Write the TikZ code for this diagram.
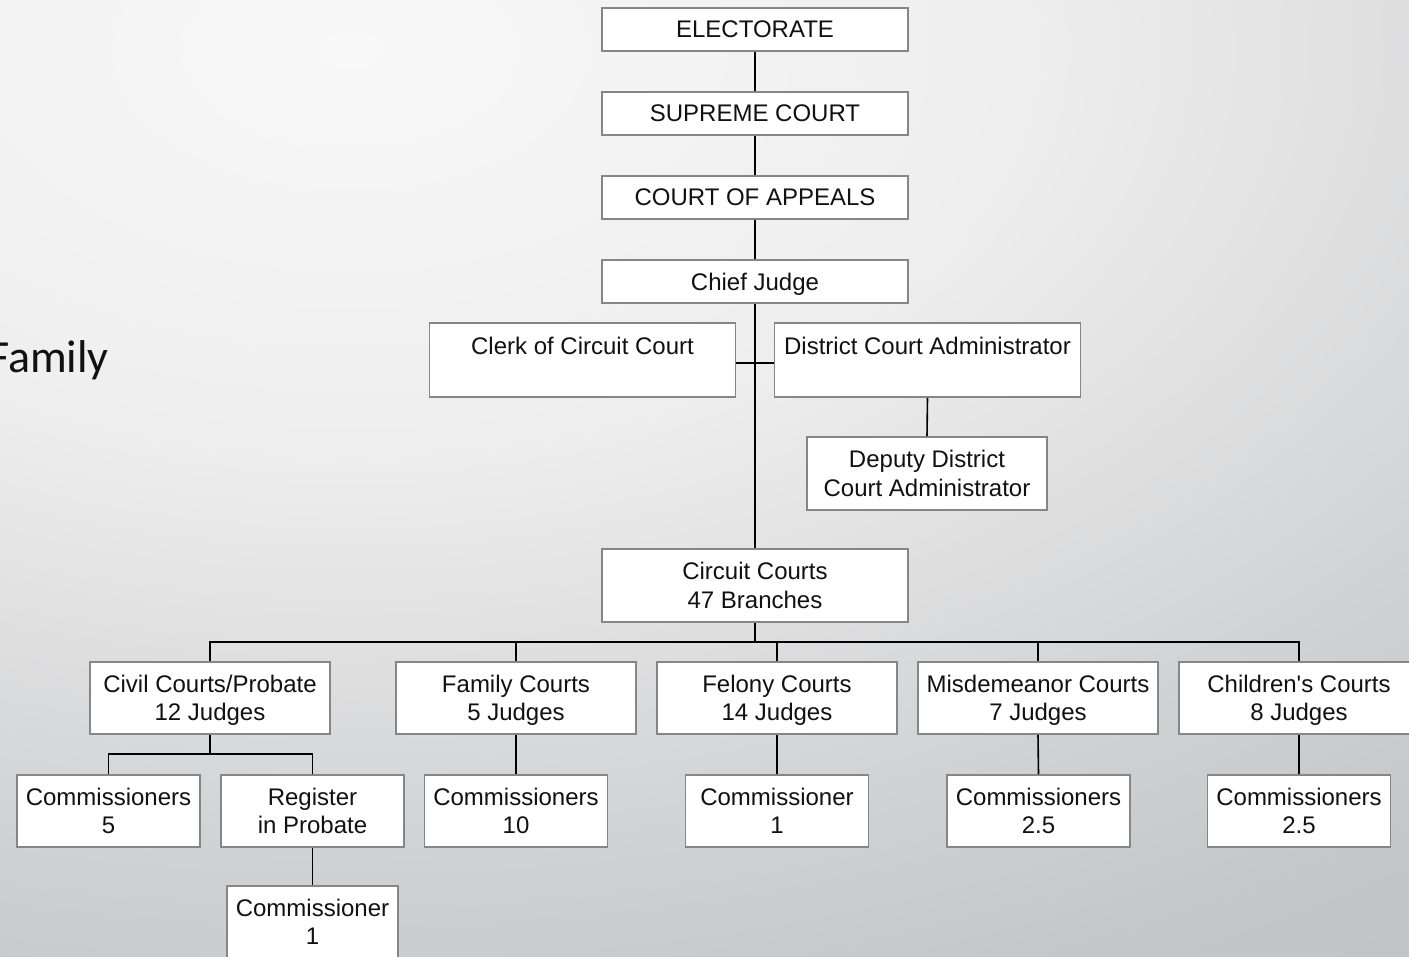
\documentclass[tikz,border=0pt]{standalone}
\usepackage{fontspec}
\setmainfont{Liberation Sans}[Ligatures=TeXOff]
\newfontfamily\calib{Carlito}
\definecolor{cA}{HTML}{F8F8F8}
\definecolor{cB}{HTML}{EEEEEE}
\definecolor{cC}{HTML}{E0E0E1}
\definecolor{cD}{HTML}{D0D2D3}
\definecolor{cE}{HTML}{C4C7C8}
\definecolor{cF}{HTML}{BFC2C3}
\definecolor{boxline}{HTML}{868686}
\definecolor{txt}{HTML}{111111}
\pgfdeclareradialshading{bgshade}{\pgfpoint{0bp}{0bp}}{color(0bp)=(cA); color(8bp)=(cB); color(12bp)=(cC); color(16bp)=(cD); color(20bp)=(cE); color(25bp)=(cF); color(50bp)=(cF)}
\begin{document}
\begin{tikzpicture}[x=1pt,y=-1pt,
  box/.style={draw=boxline,line width=1.6pt,fill=white,rectangle,inner sep=0pt,
    align=center,text=txt,text depth=0pt,font=\fontsize{24}{28.5}\selectfont},
  wide/.style={box,minimum width=306pt,minimum height=43pt},
  widetall/.style={box,minimum width=306pt,minimum height=74pt},
  mid/.style={box,minimum width=240pt,minimum height=72pt},
  small/.style={box,minimum width=183pt,minimum height=72pt},
  conn/.style={draw=black,line width=1.6pt}]
\useasboundingbox (0,0) rectangle (1409,957);
\fill[cE] (0,0) rectangle (1409,957);
\begin{scope}
\clip (0,0) rectangle (1409,957);
\shade[shading=bgshade] (350,50) ellipse (2125 and 1250);
\end{scope}
\node[anchor=base west,inner sep=0pt,font=\fontsize{46}{52}\selectfont\calib,text=txt] (fam) at (-12,373) {Family};

\node[wide] (elect) at (755,29.5) {ELECTORATE};
\node[wide] (supreme) at (755,113.5) {SUPREME COURT};
\node[wide] (appeals) at (755,197.5) {COURT OF APPEALS};
\node[wide] (chief) at (755,281.5) {Chief Judge};
\node[widetall] (clerk) at (582.5,360) {Clerk of Circuit Court\\\mbox{}};
\node[widetall] (dca) at (927.5,360) {District Court Administrator\\\mbox{}};
\node[mid,minimum height=73pt] (deputy) at (927,473.5) {Deputy District\\Court Administrator};
\node[widetall,minimum height=73pt] (circuit) at (755,585.5) {Circuit Courts\\47 Branches};

\node[mid] (civil) at (210,698) {Civil Courts/Probate\\12 Judges};
\node[mid] (family) at (516,698) {Family Courts\\5 Judges};
\node[mid] (felony) at (777,698) {Felony Courts\\14 Judges};
\node[mid] (misd) at (1038,698) {Misdemeanor Courts\\7 Judges};
\node[mid] (children) at (1299,698) {Children's Courts\\8 Judges};

\node[small] (com5) at (108.5,811) {Commissioners\\5};
\node[small] (register) at (312.5,811) {Register\\in Probate};
\node[small] (com10) at (516,811) {Commissioners\\10};
\node[small] (com1) at (777,811) {Commissioner\\1};
\node[small] (com25a) at (1038.5,811) {Commissioners\\2.5};
\node[small] (com25b) at (1299,811) {Commissioners\\2.5};
\node[small,minimum width=171pt] (combot) at (312.5,922) {Commissioner\\1};

\draw[conn] (elect.south) -- (supreme.north);
\draw[conn] (supreme.south) -- (appeals.north);
\draw[conn] (appeals.south) -- (chief.north);
\draw[conn] (chief.south) -- (circuit.north);
\draw[conn] ([yshift=-3pt]clerk.east) -- ([yshift=-3pt]dca.west);
\draw[conn] (dca.south) -- (deputy.north);

\coordinate (bus) at (755,642);
\draw[conn] (circuit.south) -- (bus);
\draw[conn] (civil.north) |- (bus);
\draw[conn] (family.north) |- (bus);
\draw[conn] (felony.north) |- (bus);
\draw[conn] (misd.north) |- (bus);
\draw[conn] (children.north) |- (bus);

\draw[conn] (family.south) -- (com10.north);
\draw[conn] (felony.south) -- (com1.north);
\draw[conn] (misd.south) -- (com25a.north);
\draw[conn] (children.south) -- (com25b.north);

\coordinate (cbus) at (210,754);
\draw[conn] (civil.south) -- (cbus);
\draw[conn] (com5.north) |- (cbus);
\draw[conn] (register.north) |- (cbus);
\draw[conn] (register.south) -- (combot.north);
\end{tikzpicture}
\end{document}
